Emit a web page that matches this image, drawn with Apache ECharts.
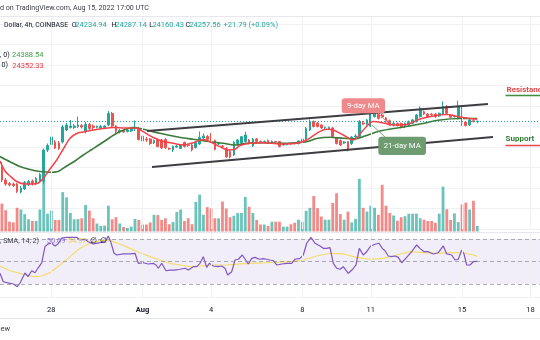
<!DOCTYPE html>
<html><head><meta charset="utf-8">
<script src="https://cdn.jsdelivr.net/npm/echarts@6/dist/echarts.min.js"></script>
<style>html,body{margin:0;padding:0;background:#fff}#c{width:540px;height:340px}</style>
</head><body><div id="c"></div><script>
// ---- data ----
const barCount = 142;                 // 4h slots on the time axis (Jul 25 20:00 -> Aug 18 08:00)
const firstBarDay = -2 - 1/6;         // days from Jul 28 00:00 UTC of the first slot
const tickDays = [0, 4, 7, 11, 14, 18, 21];
const tickLabels = ['28', 'Aug', '4', '8', '11', '15', '18'];
// [open, close, low, high]
const candles = [
[22025,21391,21293,22269],[21391,21196,21098,21488],[21220,21147,21074,21293],[21196,21122,21049,21269],
[21196,20830,20756,21244],[20805,21000,20732,21098],[20952,21269,20903,21342],[21171,21317,21098,21391],
[21342,21196,21122,21415],[21220,21464,21147,21537],[21317,21659,21244,21732],[21342,22854,21196,22927],
[22854,23074,22756,23171],[23122,23488,23049,23635],[23244,22952,22903,23342],[23196,22927,22854,23293],
[23244,23976,23171,24074],[23830,24074,23781,24171],[23952,24025,23903,24317],[23952,24025,23878,24122],
[24000,24074,23927,24488],[24049,23976,23903,24122],[23781,24098,23659,24220],[24098,23903,23830,24171],
[24025,23952,23781,24098],[23952,24000,23903,24049],[23927,24000,23878,24074],[23952,24025,23903,24074],
[24074,24635,24025,24756],[24635,24025,23952,24708],[24025,23756,23659,24074],[23732,23805,23659,23878],
[23805,23732,23683,23854],[23756,23830,23708,23878],[23781,23903,23732,23952],[23878,23927,23781,24293],
[23903,23366,23317,23976],[23537,23293,23244,23586],[23391,23342,23244,23488],[23391,23171,23098,23439],
[23196,23317,23147,23366],[23366,23025,22976,23415],[23342,22952,22903,23391],[23366,22976,22903,23439],
[22927,22903,22854,22976],[22854,23025,22756,23074],[23000,23049,22952,23098],[22927,23098,22903,23147],
[23220,23025,22976,23269],[23098,23074,23000,23147],[23098,22854,22781,23147],[22976,23220,22927,23269],
[23147,23464,23098,23756],[23439,23537,23391,23659],[23513,23366,23317,23586],[23488,23269,23220,23683],
[23317,22878,22830,23366],[23147,23171,23098,23220],[23049,23015,22976,23098],[22927,22513,22464,23000],
[22781,22513,22439,22854],[22610,23220,22561,23293],[23171,23342,23098,23391],[23196,23503,23147,23537],
[23269,23586,23220,23747],[23342,23171,23122,23391],[23049,23391,23000,23439],[23391,23269,23220,23439],
[23269,23244,23196,23317],[23244,23269,23196,23317],[23317,23196,23147,23366],[23196,23269,23147,23317],
[23269,23244,23196,23293],[23269,23025,22976,23293],[23098,23147,23049,23196],[23122,23147,23074,23196],
[23171,23147,23098,23220],[23196,23171,23122,23244],[23171,23293,23122,23317],[23244,23391,23196,23439],
[23391,23903,23342,23976],[23830,24244,23781,24342],[24244,24000,23952,24293],[24171,24000,23952,24220],
[24074,23927,23878,24122],[23927,23952,23878,24000],[23878,23952,23830,24000],[23927,23513,23464,23976],
[23439,23171,23122,23488],[23317,23098,23049,23366],[23196,23244,23147,23293],[23269,22854,22781,23293],
[23171,23488,23098,23537],[23488,23537,23415,23635],[23503,24235,23439,24317],[24171,24122,24074,24269],
[24122,24317,24049,24366],[24025,24722,23976,24878],[24478,24722,24439,24839],[24673,24400,24342,24756],
[24561,24464,24415,24610],[24415,24235,24195,24464],[24283,24074,24025,24342],[24074,24147,24000,24220],
[24156,24049,24000,24195],[24147,23976,23903,24195],[23991,24156,23927,24195],[24074,24235,24025,24293],
[24156,24317,24122,24366],[24235,24561,24195,24610],[24478,24888,24439,24976],[24722,24610,24561,24781],
[24610,24478,24439,24659],[24610,24586,24513,24659],[24610,24478,24415,24659],[24513,24644,24464,24683],
[24610,24966,24561,25220],[24966,24644,24586,25049],[24561,24449,24391,24610],[24478,24513,24439,24561],
[24400,24952,24342,25259],[24952,24074,24025,25025],[24220,24049,24000,24269],[24074,24317,24025,24366],
[24283,24235,24195,24352],[24234.94,24257.56,24160.43,24287.14]
];
const volumes = [
2790,2130,980,910,2370,2200,1740,1220,1050,1050,
2200,5100,1780,2090,1150,1150,3940,3410,1850,1220,
1250,1320,2650,2090,1320,800,560,590,2580,1220,
1430,800,450,350,490,1250,1150,700,700,910,
1670,1640,1150,1320,730,940,1950,2200,1050,1320,
730,2960,3690,1670,2440,2300,1320,1320,3000,2300,
1430,1570,1850,1850,3450,2470,1850,1150,700,700,
560,980,980,980,490,490,730,870,1180,980,
2060,2370,3550,2330,1500,1180,1180,2860,3830,1740,
1180,1990,910,1250,5260,2370,1990,2580,2370,1670,
4670,2580,1850,1600,1080,1430,1530,1780,1780,1780,
1320,1180,1050,1050,870,1780,4490,2230,1150,1810,
940,2720,2890,2200,3070,560
];
// [days from Jul 28, value]
const ma9 = [[-2.25,22317],[-2.031,21829],[-1.812,21585],[-1.518,21317],[-1.154,21195],[-0.791,21195],[-0.571,21244],[-0.352,21473],[-0.059,21927],[0.235,22366],[0.524,22902],[0.818,23424],[1.112,23659],[1.401,23732],[1.839,23829],[2.277,23902],[2.716,23951],[3.154,23927],[3.741,23912],[4.030,23746],[4.469,23463],[4.907,23268],[5.345,23180],[5.783,23098],[6.222,23210],[6.660,23366],[6.954,23259],[7.392,23015],[7.756,22854],[8.049,22888],[8.268,23073],[8.707,23180],[9.290,23210],[10.022,23146],[10.753,23180],[11.192,23341],[11.630,23668],[12.068,23863],[12.358,23829],[12.796,23585],[13.234,23341],[13.672,23829],[14.111,24244],[14.549,24171],[14.987,24073],[15.574,24098],[16.157,24366],[16.740,24512],[17.328,24585],[17.910,24463],[18.349,24390],[18.667,24352.33]];
const ma21 = [[-2.25,22537],[-1.812,22283],[-1.373,22049],[-0.935,21902],[-0.497,21805],[-0.059,21766],[0.292,21805],[0.673,22073],[1.037,22317],[1.401,22610],[1.738,22854],[2.133,23132],[2.571,23463],[3.009,23756],[3.592,23951],[4.030,23863],[4.762,23668],[5.494,23502],[6.222,23376],[6.954,23259],[7.537,23180],[8.049,23098],[8.562,23180],[9.290,23210],[10.022,23180],[10.753,23210],[11.192,23259],[11.630,23415],[12.213,23473],[12.796,23424],[13.309,23400],[13.747,23537],[14.404,23780],[15.281,23951],[16.157,24122],[17.034,24317],[17.910,24390],[18.667,24388.54]];
const rsi = [[-2.25,39.5],[-2.105,32.0],[-1.956,31.2],[-1.667,30.0],[-1.492,27.6],[-1.373,30.9],[-1.154,39.8],[-1.023,36.5],[-0.861,41.8],[-0.716,40.0],[-0.585,44.2],[-0.422,48.7],[-0.278,63.2],[-0.146,65.6],[0.016,66.2],[0.160,63.8],[0.292,65.6],[0.454,70.9],[0.673,71.5],[0.892,71.5],[1.112,71.5],[1.256,69.1],[1.475,69.7],[1.620,67.6],[1.839,65.6],[2.133,66.7],[2.352,67.6],[2.496,72.7],[2.602,67.6],[2.746,57.3],[2.865,55.8],[3.154,56.7],[3.448,56.7],[3.667,57.3],[3.811,48.4],[4.030,48.9],[4.249,47.8],[4.469,48.4],[4.587,46.9],[4.688,44.0],[4.837,48.4],[5.025,41.8],[5.201,42.4],[5.420,42.4],[5.639,43.1],[5.858,44.0],[6.003,42.4],[6.222,45.4],[6.371,45.4],[6.515,48.4],[6.660,54.3],[6.809,44.8],[6.923,48.4],[7.098,46.0],[7.317,45.4],[7.466,46.0],[7.611,44.0],[7.729,38.0],[7.905,40.9],[8.049,51.3],[8.194,52.0],[8.369,55.8],[8.518,51.3],[8.632,47.8],[8.781,52.8],[8.926,53.7],[9.114,52.0],[9.290,52.5],[9.439,52.0],[9.583,51.3],[9.728,50.7],[9.877,46.9],[10.096,47.8],[10.315,48.4],[10.534,48.4],[10.679,52.0],[10.898,52.8],[11.043,55.8],[11.192,66.2],[11.380,71.5],[11.556,66.2],[11.775,63.8],[11.919,61.7],[12.068,61.7],[12.213,62.3],[12.358,48.4],[12.507,44.0],[12.651,43.1],[12.796,45.4],[13.015,39.5],[13.208,43.1],[13.352,46.9],[13.497,61.7],[13.672,55.8],[13.821,58.7],[13.997,63.8],[14.185,65.3],[14.360,66.2],[14.505,61.7],[14.623,59.6],[14.768,54.9],[14.917,54.3],[15.062,54.9],[15.206,53.7],[15.355,48.9],[15.574,53.7],[15.793,58.7],[16.013,64.7],[16.157,61.7],[16.333,58.7],[16.521,58.7],[16.740,56.7],[16.959,57.8],[17.179,63.8],[17.328,56.7],[17.547,55.8],[17.691,51.3],[17.836,52.0],[17.985,60.2],[18.086,56.7],[18.204,46.9],[18.349,46.9],[18.494,49.8],[18.667,50.09]];
const rsiMa = [[-2.25,46.0],[-1.812,41.8],[-1.373,39.5],[-1.081,38.0],[-0.791,36.5],[-0.422,37.1],[-0.059,40.0],[0.380,46.9],[0.818,54.3],[1.256,61.7],[1.694,66.2],[2.133,68.5],[2.571,68.5],[3.009,65.6],[3.448,61.7],[3.886,57.8],[4.324,54.3],[4.762,51.3],[5.201,48.4],[5.639,46.9],[6.077,45.4],[6.515,46.0],[7.098,46.9],[7.686,46.9],[8.268,47.8],[8.851,48.4],[9.439,48.9],[10.460,49.8],[11.043,51.3],[11.630,54.9],[12.213,57.3],[12.796,56.7],[13.383,53.7],[13.966,52.0],[14.549,52.8],[15.136,55.8],[15.719,58.7],[16.302,57.8],[16.889,57.3],[17.472,57.8],[18.055,57.8],[18.494,55.8],[18.667,54.57]];
const resistanceLine = [[4.193,23780],[19.138,25098]];
const supportLine = [[4.412,22024],[19.357,23488]];
const rsiLevels = [70, 50, 30];

// ---- derived ----
const cats = [];
const t0 = Date.UTC(2022, 6, 25, 20);
for (let i = 0; i < barCount; i++) {
  const d = new Date(t0 + i * 4 * 3600 * 1000);
  cats.push((d.getUTCMonth()+1) + '-' + d.getUTCDate() + ' ' + d.getUTCHours() + ':00');
}
const tMin = firstBarDay - 1/12, tMax = firstBarDay + (barCount - 1)/6 + 1/12;
const tickIndex = {};
tickDays.forEach((d, k) => { tickIndex[Math.round((d - firstBarDay) * 6)] = tickLabels[k]; });
const last = candles[candles.length - 1];
const UP = '#26a69a', DOWN = '#ef5350';
const FONT = 'Roboto, "Liberation Sans", sans-serif';
const gridColor = '#eff1f5';

function txt(x, y, text, fill, size, weight, align) {
  return { type: 'text', x: x, y: y, z: 100, silent: true,
    style: { text: text, fill: fill, font: (weight || 'normal') + ' ' + size + 'px ' + FONT,
      textAlign: align || 'left', textVerticalAlign: 'middle' } };
}
function hline(x1, y1, x2, y2, color, w) {
  return { type: 'line', z: 90, silent: true, shape: { x1: x1, y1: y1, x2: x2, y2: y2 }, style: { stroke: color, lineWidth: w || 1 } };
}

const chart = echarts.init(document.getElementById('c'), null, { renderer: 'canvas' });
chart.setOption({
  animation: false,
  backgroundColor: '#ffffff',
  grid: [
    { left: 0, right: 0, top: 16, height: 213 },
    { left: 0, right: 0, top: 151.5, height: 80 },
    { left: 0, right: 0, top: 232, height: 65 }
  ],
  xAxis: [
    { type: 'category', gridIndex: 0, data: cats, show: false },
    { type: 'category', gridIndex: 1, data: cats, show: false },
    { type: 'category', gridIndex: 2, data: cats,
      axisLine: { show: false }, axisTick: { show: false }, splitLine: { show: false },
      axisLabel: { interval: function (i) { return tickIndex[i] !== undefined; },
        formatter: function (v, i) { const s = tickIndex[i] || ''; return s === 'Aug' ? '{b|Aug}' : s; },
        margin: 9, color: '#131722', fontSize: 7.5, fontFamily: FONT,
        rich: { b: { fontWeight: 'bold', fontSize: 7.5, color: '#131722', fontFamily: FONT } } } },
    { type: 'value', gridIndex: 0, min: tMin, max: tMax, show: false },
    { type: 'value', gridIndex: 2, min: tMin, max: tMax, show: false }
  ],
  yAxis: [
    { type: 'value', gridIndex: 0, min: 19000, max: 29390, interval: 1000, position: 'right',
      axisLabel: { show: false }, axisLine: { show: false }, axisTick: { show: false },
      splitLine: { lineStyle: { color: gridColor, width: 1 } } },
    { type: 'value', gridIndex: 1, min: 0, max: 8000, show: false },
    { type: 'value', gridIndex: 2, min: 18.44, max: 76.22, show: false }
  ],
  series: [
    { type: 'line', xAxisIndex: 3, yAxisIndex: 0, data: [], silent: true, z: 0,
      markLine: { silent: true, symbol: 'none', label: { show: false }, animation: false,
        lineStyle: { color: gridColor, type: 'solid', width: 1 },
        data: tickDays.map(function (d) { return { xAxis: d }; }) } },
    { type: 'bar', xAxisIndex: 1, yAxisIndex: 1, barWidth: '74%', z: 1, silent: true,
      data: volumes.map(function (v, i) {
        return { value: v, itemStyle: { color: candles[i][1] >= candles[i][0] ? 'rgba(38,166,154,0.68)' : 'rgba(239,83,80,0.68)' } };
      }) },
    { type: 'candlestick', xAxisIndex: 0, yAxisIndex: 0, data: candles, barWidth: 2.2, z: 3,
      itemStyle: { color: UP, color0: DOWN, borderColor: UP, borderColor0: DOWN, borderWidth: 1 },
      markLine: { silent: true, symbol: 'none', label: { show: false },
        lineStyle: { color: UP, type: [1, 2], width: 1 }, data: [{ yAxis: last[1] }] } },
    { type: 'line', xAxisIndex: 3, yAxisIndex: 0, data: ma21, showSymbol: false, smooth: 0.3, z: 4,
      lineStyle: { color: '#3b7a3b', width: 1.6 } },
    { type: 'line', xAxisIndex: 3, yAxisIndex: 0, data: ma9, showSymbol: false, smooth: 0.3, z: 5,
      lineStyle: { color: '#f2434b', width: 1.5 } },
    { type: 'line', xAxisIndex: 3, yAxisIndex: 0, data: resistanceLine, showSymbol: false, z: 6,
      lineStyle: { color: '#3e3e42', width: 1.8 } },
    { type: 'line', xAxisIndex: 3, yAxisIndex: 0, data: supportLine, showSymbol: false, z: 6,
      lineStyle: { color: '#3e3e42', width: 1.8 } },
    { type: 'line', xAxisIndex: 4, yAxisIndex: 2, data: [], silent: true, z: 0,
      markArea: { silent: true, itemStyle: { color: 'rgba(126,87,194,0.1)' }, data: [[{ yAxis: rsiLevels[2] }, { yAxis: rsiLevels[0] }]] },
      markLine: { silent: true, symbol: 'none', label: { show: false },
        data: tickDays.map(function (d) { return { xAxis: d, lineStyle: { color: gridColor, type: 'solid', width: 1 } }; })
          .concat(rsiLevels.map(function (l) { return { yAxis: l, lineStyle: { color: 'rgba(120,123,134,0.6)', type: [4, 3], width: 1 } }; })) } },
    { type: 'line', xAxisIndex: 4, yAxisIndex: 2, data: rsiMa, showSymbol: false, z: 3,
      lineStyle: { color: '#f2dc6a', width: 1.2 } },
    { type: 'line', xAxisIndex: 4, yAxisIndex: 2, data: rsi, showSymbol: false, z: 4,
      lineStyle: { color: '#7e57c2', width: 1.2 } }
  ],
  graphic: [
    hline(0, 16.5, 540, 16.5, '#e6e8ee', 1),
    hline(0, 232.5, 540, 232.5, '#e6e8ee', 1),
    hline(0, 297.5, 540, 297.5, '#eef0f4', 1),
    hline(0, 318.5, 540, 318.5, '#e0e3eb', 1),
    txt(0, 8, 'd on TradingView.com, Aug 15, 2022 17:00 UTC', '#3c3f48', 7.1),
    txt(4, 25, 'Dollar, 4h, COINBASE', '#131722', 6.9),
    txt(71.8, 25, 'O', '#131722', 7.1), txt(75.3, 25, last[0].toFixed(2), UP, 7.5),
    txt(111.6, 25, 'H', '#131722', 7.1), txt(115.2, 25, last[3].toFixed(2), UP, 7.5),
    txt(149.2, 25, 'L', '#131722', 7.1), txt(152.4, 25, last[2].toFixed(2), UP, 7.5),
    txt(185.6, 25, 'C', '#131722', 7.1), txt(189.2, 25, last[1].toFixed(2), UP, 7.5),
    txt(223.5, 25, '+21.79 (+0.09%)', UP, 7.5),
    txt(0, 55.5, ', 0)', '#131722', 7.1), txt(12, 55.5, ma21[ma21.length - 1][1].toFixed(2), '#43a047', 7.5),
    txt(1.5, 65.7, '0)', '#131722', 7.1), txt(12.3, 65.7, ma9[ma9.length - 1][1].toFixed(2), '#f23645', 7.5),
    txt(0, 241, ', SMA, 14, 2)', '#3c3f48', 7.1),
    txt(46.7, 241, rsi[rsi.length - 1][1].toFixed(2), '#8c6fd6', 7.5),
    txt(67.7, 241, rsiMa[rsiMa.length - 1][1].toFixed(2), '#e8cf55', 7.5),
    txt(90, 241, '∅', '#131722', 7.5), txt(100, 241, '∅', '#131722', 7.5),
    txt(0.5, 329, 'ew', '#3c3f48', 7.5),
    // annotations
    txt(506.5, 89.5, 'Resistance', '#e8474c', 8, 'bold'),
    hline(505.5, 95.5, 540, 95.5, '#3f8f3f', 1.6),
    txt(505.5, 139.3, 'Support', '#2e7d32', 8, 'bold'),
    hline(505.5, 145.5, 540, 145.5, '#e8474c', 1.6),
    hline(378, 113, 388, 123, '#f08a8a', 1),
    { type: 'rect', z: 95, silent: true, shape: { x: 341.7, y: 98.3, width: 43.3, height: 15, r: 3 }, style: { fill: '#ef8a8c' } },
    txt(363.3, 106, '9-day MA', '#ffffff', 7.8, 'normal', 'center'),
    hline(385, 137, 372, 125, '#7fa27f', 1),
    { type: 'rect', z: 95, silent: true, shape: { x: 378.3, y: 136.7, width: 47.7, height: 18.3, r: 3 }, style: { fill: '#6f9b70' } },
    txt(402.2, 146, '21-day MA', '#ffffff', 7.8, 'normal', 'center')
  ]
});
</script></body></html>
